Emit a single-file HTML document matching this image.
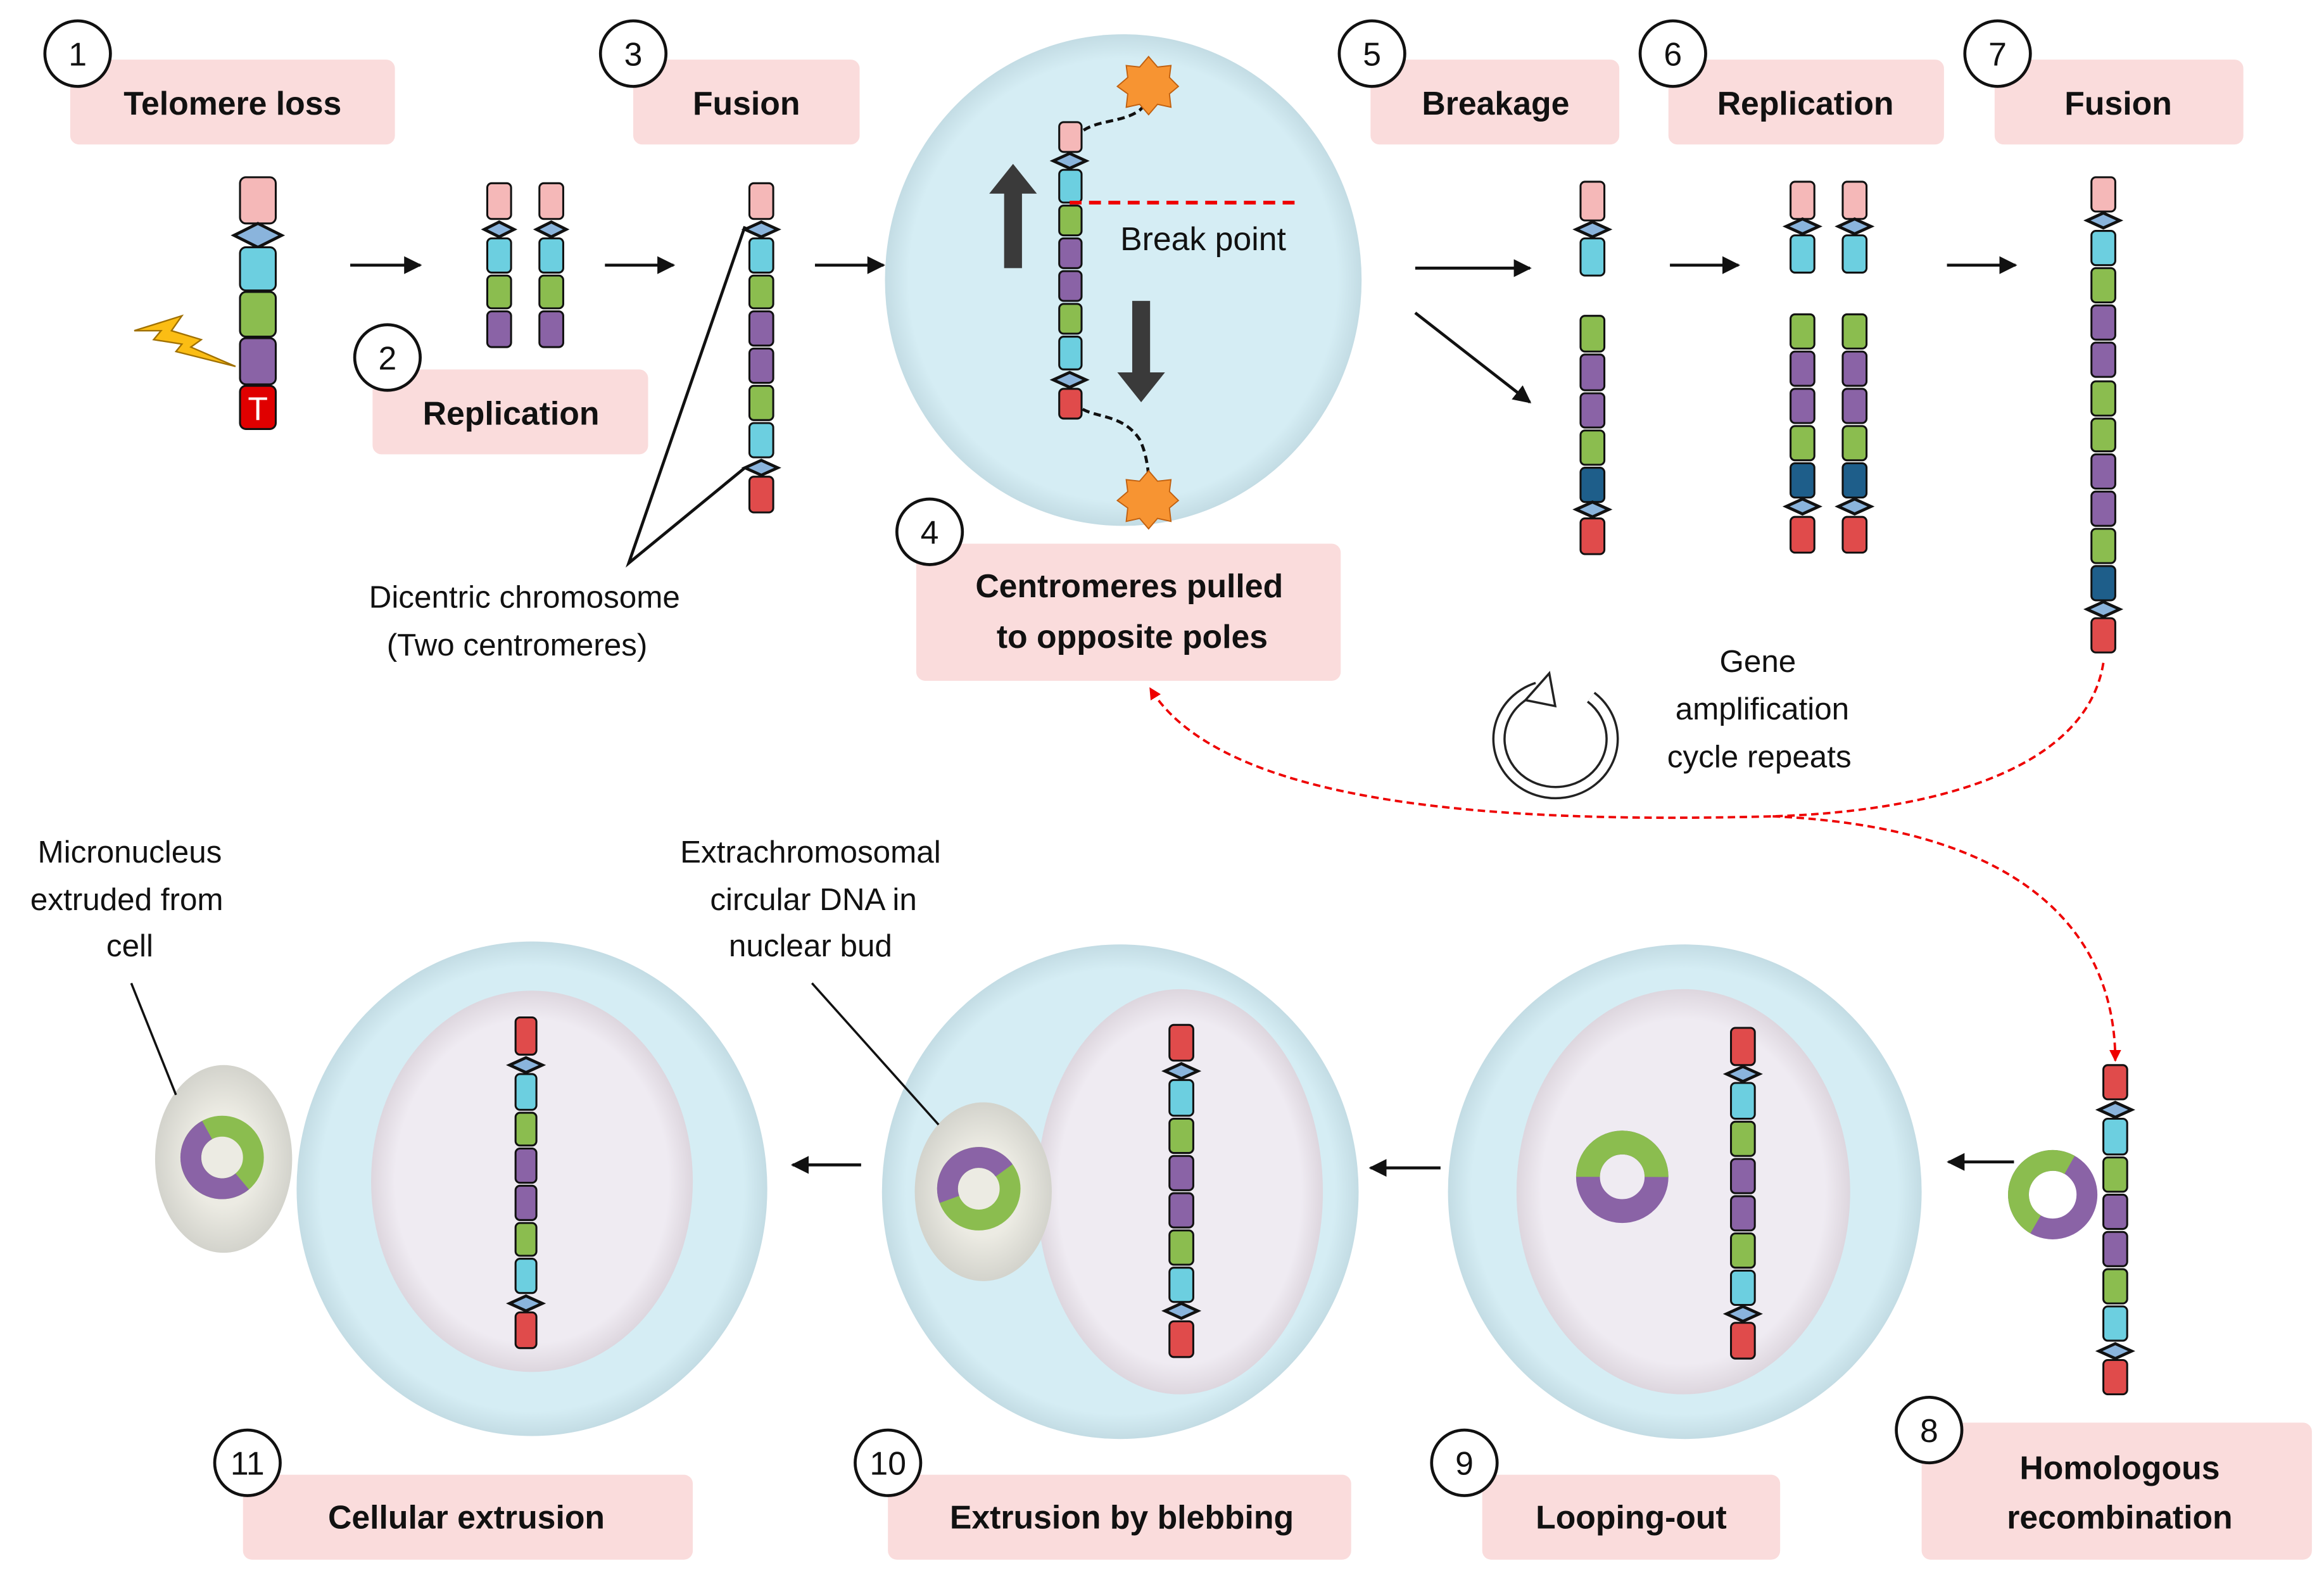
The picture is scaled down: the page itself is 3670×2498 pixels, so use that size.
<!DOCTYPE html>
<html><head><meta charset="utf-8"><style>
html,body{margin:0;padding:0;background:#fff}
svg{display:block}
text{font-family:"Liberation Sans",sans-serif;fill:#111}
.b{font-weight:bold;font-size:22px}
.r{font-size:21px}
.n{font-size:22px}
.s{stroke:#111;stroke-width:1.3}
.P{fill:#f5b8b8}.C{fill:#6ccfe0}.G{fill:#8bbd4f}.V{fill:#8a63a6}.R{fill:#e04b4b}.D{fill:#1e5e8a}
.dm{fill:#8ab4dc;stroke:#111;stroke-width:2}
.lb{fill:#fadcdc}
.nc{fill:#fff;stroke:#111;stroke-width:2}
.ar{stroke:#111;stroke-width:2;fill:none;marker-end:url(#ah)}
</style></head><body>
<svg width="3670" height="2498" viewBox="0 0 1560 1062" xmlns="http://www.w3.org/2000/svg">
<defs>
<marker id="ah" viewBox="0 0 10 10" refX="9" refY="5" markerWidth="6" markerHeight="6" orient="auto"><path d="M0,0 L10,5 L0,10 z" fill="#111"/></marker>
<marker id="rh" viewBox="0 0 10 10" refX="9" refY="5" markerWidth="5" markerHeight="5" orient="auto"><path d="M0,0 L10,5 L0,10 z" fill="#e00"/></marker>
<radialGradient id="cell" cx="50%" cy="50%" r="50%"><stop offset="0.9" stop-color="#d5edf4"/><stop offset="1" stop-color="#c3dce4"/></radialGradient>
<radialGradient id="nuc" cx="50%" cy="50%" r="50%"><stop offset="0.85" stop-color="#efebf2"/><stop offset="1" stop-color="#ddd6de"/></radialGradient>
<radialGradient id="bud" cx="50%" cy="50%" r="50%"><stop offset="0.5" stop-color="#ecebe3"/><stop offset="1" stop-color="#d3d3cc"/></radialGradient>
</defs>

<rect class="lb" x="47" y="40" width="218" height="57" rx="6"/>
<rect class="lb" x="425" y="40" width="152" height="57" rx="6"/>
<rect class="lb" x="250" y="248" width="185" height="57" rx="6"/>
<rect class="lb" x="615" y="365" width="285" height="92" rx="6"/>
<rect class="lb" x="920" y="40" width="167" height="57" rx="6"/>
<rect class="lb" x="1120" y="40" width="185" height="57" rx="6"/>
<rect class="lb" x="1339" y="40" width="167" height="57" rx="6"/>
<rect class="lb" x="1290" y="955" width="262" height="92" rx="6"/>
<rect class="lb" x="995" y="990" width="200" height="57" rx="6"/>
<rect class="lb" x="596" y="990" width="311" height="57" rx="6"/>
<rect class="lb" x="163" y="990" width="302" height="57" rx="6"/>

<text class="b" x="156" y="77" text-anchor="middle">Telomere loss</text>
<text class="b" x="501" y="77" text-anchor="middle">Fusion</text>
<text class="b" x="343" y="285" text-anchor="middle">Replication</text>
<text class="b" x="758" y="401" text-anchor="middle">Centromeres pulled</text>
<text class="b" x="760" y="435" text-anchor="middle">to opposite poles</text>
<text class="b" x="1004" y="77" text-anchor="middle">Breakage</text>
<text class="b" x="1212" y="77" text-anchor="middle">Replication</text>
<text class="b" x="1422" y="77" text-anchor="middle">Fusion</text>
<text class="b" x="1423" y="993" text-anchor="middle">Homologous</text>
<text class="b" x="1423" y="1026" text-anchor="middle">recombination</text>
<text class="b" x="1095" y="1026" text-anchor="middle">Looping-out</text>
<text class="b" x="753" y="1026" text-anchor="middle">Extrusion by blebbing</text>
<text class="b" x="313" y="1026" text-anchor="middle">Cellular extrusion</text>

<g>
<circle class="nc" cx="52" cy="36" r="22"/><text class="n" x="52" y="44" text-anchor="middle">1</text>
<circle class="nc" cx="260" cy="240" r="22"/><text class="n" x="260" y="248" text-anchor="middle">2</text>
<circle class="nc" cx="425" cy="36" r="22"/><text class="n" x="425" y="44" text-anchor="middle">3</text>
<circle class="nc" cx="624" cy="357" r="22"/><text class="n" x="624" y="365" text-anchor="middle">4</text>
<circle class="nc" cx="921" cy="36" r="22"/><text class="n" x="921" y="44" text-anchor="middle">5</text>
<circle class="nc" cx="1123" cy="36" r="22"/><text class="n" x="1123" y="44" text-anchor="middle">6</text>
<circle class="nc" cx="1341" cy="36" r="22"/><text class="n" x="1341" y="44" text-anchor="middle">7</text>
<circle class="nc" cx="1295" cy="960" r="22"/><text class="n" x="1295" y="968" text-anchor="middle">8</text>
<circle class="nc" cx="983" cy="982" r="22"/><text class="n" x="983" y="990" text-anchor="middle">9</text>
<circle class="nc" cx="596" cy="982" r="22"/><text class="n" x="596" y="990" text-anchor="middle">10</text>
<circle class="nc" cx="166" cy="982" r="22"/><text class="n" x="166" y="990" text-anchor="middle">11</text>
</g>

<polygon points="90,222 122,212 115,222 135,228 128,233 158,246 118,236 122,231 103,228 108,222" fill="#fbbd14" stroke="#a07000" stroke-width="1"/>
<rect class="s P" x="161" y="119" width="24" height="31" rx="4"/>
<polygon class="dm" points="157,158 173,150 189,158 173,166"/>
<rect class="s C" x="161" y="166" width="24" height="29" rx="4"/>
<rect class="s G" x="161" y="196" width="24" height="30" rx="4"/>
<rect class="s V" x="161" y="227" width="24" height="31" rx="4"/>
<rect x="161" y="259" width="24" height="29" rx="4" fill="#e00000" stroke="#111" stroke-width="1.3"/>
<text x="173" y="282" text-anchor="middle" style="font-size:22px;fill:#fff">T</text>

<g>
<rect class="s P" x="327" y="123" width="16" height="24" rx="3"/><polygon class="dm" points="325,154 335,149 345,154 335,159"/>
<rect class="s C" x="327" y="160" width="16" height="23" rx="3"/><rect class="s G" x="327" y="185" width="16" height="22" rx="3"/><rect class="s V" x="327" y="209" width="16" height="24" rx="3"/>
<rect class="s P" x="362" y="123" width="16" height="24" rx="3"/><polygon class="dm" points="360,154 370,149 380,154 370,159"/>
<rect class="s C" x="362" y="160" width="16" height="23" rx="3"/><rect class="s G" x="362" y="185" width="16" height="22" rx="3"/><rect class="s V" x="362" y="209" width="16" height="24" rx="3"/>
</g>

<rect class="s P" x="503" y="123" width="16" height="24" rx="3"/><polygon class="dm" points="500,154 511,149 522,154 511,159"/>
<rect class="s C" x="503" y="160" width="16" height="23" rx="3"/><rect class="s G" x="503" y="185" width="16" height="22" rx="3"/>
<rect class="s V" x="503" y="209" width="16" height="23" rx="3"/><rect class="s V" x="503" y="234" width="16" height="23" rx="3"/>
<rect class="s G" x="503" y="259" width="16" height="23" rx="3"/><rect class="s C" x="503" y="284" width="16" height="23" rx="3"/>
<polygon class="dm" points="500,314 511,309 522,314 511,319"/><rect class="s R" x="503" y="320" width="16" height="24" rx="3"/>
<path d="M500,152 L422,378 L500,314" stroke="#111" stroke-width="2" fill="none"/>
<text class="r" x="352" y="408" text-anchor="middle">Dicentric chromosome</text>
<text class="r" x="347" y="440" text-anchor="middle">(Two centromeres)</text>

<line class="ar" x1="235" y1="178" x2="282" y2="178"/>
<line class="ar" x1="406" y1="178" x2="452" y2="178"/>
<line class="ar" x1="547" y1="178" x2="593" y2="178"/>
<line class="ar" x1="950" y1="180" x2="1027" y2="180"/>
<line class="ar" x1="950" y1="210" x2="1027" y2="270"/>
<line class="ar" x1="1121" y1="178" x2="1167" y2="178"/>
<line class="ar" x1="1307" y1="178" x2="1353" y2="178"/>

<ellipse cx="754" cy="188" rx="160" ry="165" fill="url(#cell)"/>
<polygon points="680,110 696,130 686,130 686,180 674,180 674,130 664,130" fill="#3a3a3a"/>
<polygon points="766,270 782,250 772,250 772,202 760,202 760,250 750,250" fill="#3a3a3a"/>
<path d="M718,100 C725,78 750,85 765,74 C772,68 771,62 771,62" stroke="#111" stroke-width="2" stroke-dasharray="5,3" fill="none"/>
<path d="M718,262 C722,285 750,272 765,295 C770,305 771,318 771,322" stroke="#111" stroke-width="2" stroke-dasharray="5,3" fill="none"/>
<polygon points="771,38 777,45 786,44 785,52 791,58 785,63 786,72 777,70 771,77 765,70 756,72 757,63 750,58 757,52 756,44 765,45" fill="#f79432" stroke="#c06010" stroke-width="0.8"/>
<polygon points="771,316 777,323 786,322 785,330 791,336 785,341 786,350 777,348 771,355 765,348 756,350 757,341 750,336 757,330 756,322 765,323" fill="#f79432" stroke="#c06010" stroke-width="0.8"/>
<rect class="s P" x="711" y="82" width="15" height="20" rx="3"/><polygon class="dm" points="707,108 718,103 729,108 718,113"/>
<rect class="s C" x="711" y="114" width="15" height="22" rx="3"/><rect class="s G" x="711" y="138" width="15" height="20" rx="3"/>
<rect class="s V" x="711" y="160" width="15" height="20" rx="3"/><rect class="s V" x="711" y="182" width="15" height="20" rx="3"/>
<rect class="s G" x="711" y="204" width="15" height="20" rx="3"/><rect class="s C" x="711" y="226" width="15" height="22" rx="3"/>
<polygon class="dm" points="707,255 718,250 729,255 718,260"/><rect class="s R" x="711" y="261" width="15" height="20" rx="3"/>
<line x1="718" y1="136" x2="872" y2="136" stroke="#e00" stroke-width="2.5" stroke-dasharray="8,5"/>
<text x="752" y="168" style="font-size:22px">Break point</text>

<g>
<rect class="s P" x="1061" y="122" width="16" height="26" rx="3"/><polygon class="dm" points="1058,154 1069,149 1080,154 1069,159"/><rect class="s C" x="1061" y="160" width="16" height="25" rx="3"/>
<rect class="s G" x="1061" y="212" width="16" height="24" rx="3"/><rect class="s V" x="1061" y="238" width="16" height="24" rx="3"/><rect class="s V" x="1061" y="264" width="16" height="23" rx="3"/>
<rect class="s G" x="1061" y="289" width="16" height="23" rx="3"/><rect class="s D" x="1061" y="314" width="16" height="23" rx="3"/>
<polygon class="dm" points="1058,342 1069,337 1080,342 1069,347"/><rect class="s R" x="1061" y="348" width="16" height="24" rx="3"/>
</g>
<g>
<rect class="s P" x="1202" y="122" width="16" height="25" rx="3"/><polygon class="dm" points="1199,152 1210,147 1221,152 1210,157"/><rect class="s C" x="1202" y="158" width="16" height="25" rx="3"/>
<rect class="s G" x="1202" y="211" width="16" height="23" rx="3"/><rect class="s V" x="1202" y="236" width="16" height="23" rx="3"/><rect class="s V" x="1202" y="261" width="16" height="23" rx="3"/>
<rect class="s G" x="1202" y="286" width="16" height="23" rx="3"/><rect class="s D" x="1202" y="311" width="16" height="23" rx="3"/>
<polygon class="dm" points="1199,340 1210,335 1221,340 1210,345"/><rect class="s R" x="1202" y="347" width="16" height="24" rx="3"/>
<rect class="s P" x="1237" y="122" width="16" height="25" rx="3"/><polygon class="dm" points="1234,152 1245,147 1256,152 1245,157"/><rect class="s C" x="1237" y="158" width="16" height="25" rx="3"/>
<rect class="s G" x="1237" y="211" width="16" height="23" rx="3"/><rect class="s V" x="1237" y="236" width="16" height="23" rx="3"/><rect class="s V" x="1237" y="261" width="16" height="23" rx="3"/>
<rect class="s G" x="1237" y="286" width="16" height="23" rx="3"/><rect class="s D" x="1237" y="311" width="16" height="23" rx="3"/>
<polygon class="dm" points="1234,340 1245,335 1256,340 1245,345"/><rect class="s R" x="1237" y="347" width="16" height="24" rx="3"/>
</g>
<g>
<rect class="s P" x="1404" y="119" width="16" height="23" rx="3"/><polygon class="dm" points="1401,148 1412,143 1423,148 1412,153"/>
<rect class="s C" x="1404" y="155" width="16" height="23" rx="3"/><rect class="s G" x="1404" y="180" width="16" height="23" rx="3"/>
<rect class="s V" x="1404" y="205" width="16" height="23" rx="3"/><rect class="s V" x="1404" y="230" width="16" height="23" rx="3"/>
<rect class="s G" x="1404" y="256" width="16" height="23" rx="3"/><rect class="s G" x="1404" y="281" width="16" height="22" rx="3"/>
<rect class="s V" x="1404" y="305" width="16" height="23" rx="3"/><rect class="s V" x="1404" y="330" width="16" height="23" rx="3"/>
<rect class="s G" x="1404" y="355" width="16" height="23" rx="3"/><rect class="s D" x="1404" y="380" width="16" height="23" rx="3"/>
<polygon class="dm" points="1401,409 1412,404 1423,409 1412,414"/><rect class="s R" x="1404" y="415" width="16" height="23" rx="3"/>
</g>

<path d="M1032,462 A38,36 0 1,0 1068,468" fill="none" stroke="#222" stroke-width="9"/>
<path d="M1032,462 A38,36 0 1,0 1068,468" fill="none" stroke="#fff" stroke-width="6"/>
<polygon points="1024,470 1040,452 1044,474" fill="#fff" stroke="#222" stroke-width="1.5"/>
<text class="r" x="1180" y="451" text-anchor="middle">Gene</text>
<text class="r" x="1183" y="483" text-anchor="middle">amplification</text>
<text class="r" x="1181" y="515" text-anchor="middle">cycle repeats</text>

<path d="M1412,445 C1400,520 1290,545 1190,548 C1000,553 820,540 772,462" fill="none" stroke="#e00" stroke-width="1.6" stroke-dasharray="5,3" marker-end="url(#rh)"/>
<path d="M1190,548 C1350,555 1420,620 1420,712" fill="none" stroke="#e00" stroke-width="1.6" stroke-dasharray="5,3" marker-end="url(#rh)"/>

<line class="ar" x1="1352" y1="780" x2="1308" y2="780"/>
<line class="ar" x1="967" y1="784" x2="920" y2="784"/>
<line class="ar" x1="578" y1="782" x2="532" y2="782"/>

<g>
<circle cx="1378" cy="802" r="23" fill="none" stroke="#8a63a6" stroke-width="14"/>
<circle cx="1378" cy="802" r="23" fill="none" stroke="#8bbd4f" stroke-width="14" stroke-dasharray="72 73" transform="rotate(120 1378 802)"/>
<rect class="s R" x="1412" y="715" width="16" height="23" rx="3"/><polygon class="dm" points="1409,745 1420,740 1431,745 1420,750"/>
<rect class="s C" x="1412" y="751" width="16" height="24" rx="3"/><rect class="s G" x="1412" y="777" width="16" height="23" rx="3"/>
<rect class="s V" x="1412" y="802" width="16" height="23" rx="3"/><rect class="s V" x="1412" y="827" width="16" height="23" rx="3"/>
<rect class="s G" x="1412" y="852" width="16" height="23" rx="3"/><rect class="s C" x="1412" y="877" width="16" height="23" rx="3"/>
<polygon class="dm" points="1409,907 1420,902 1431,907 1420,912"/><rect class="s R" x="1412" y="913" width="16" height="23" rx="3"/>
</g>

<ellipse cx="1131" cy="800" rx="159" ry="166" fill="url(#cell)"/>
<ellipse cx="1130" cy="800" rx="112" ry="136" fill="url(#nuc)"/>
<circle cx="1089" cy="790" r="23" fill="none" stroke="#8a63a6" stroke-width="16"/>
<circle cx="1089" cy="790" r="23" fill="none" stroke="#8bbd4f" stroke-width="16" stroke-dasharray="72.3 72.3" transform="rotate(180 1089 790)"/>
<g>
<rect class="s R" x="1162" y="690" width="16" height="25" rx="3"/><polygon class="dm" points="1159,721 1170,716 1181,721 1170,726"/>
<rect class="s C" x="1162" y="727" width="16" height="24" rx="3"/><rect class="s G" x="1162" y="753" width="16" height="23" rx="3"/>
<rect class="s V" x="1162" y="778" width="16" height="23" rx="3"/><rect class="s V" x="1162" y="803" width="16" height="23" rx="3"/>
<rect class="s G" x="1162" y="828" width="16" height="23" rx="3"/><rect class="s C" x="1162" y="853" width="16" height="23" rx="3"/>
<polygon class="dm" points="1159,882 1170,877 1181,882 1170,887"/><rect class="s R" x="1162" y="888" width="16" height="24" rx="3"/>
</g>

<ellipse cx="752" cy="800" rx="160" ry="166" fill="url(#cell)"/>
<ellipse cx="792" cy="800" rx="96" ry="136" fill="url(#nuc)"/>
<ellipse cx="660" cy="800" rx="46" ry="60" fill="url(#bud)"/>
<circle cx="657" cy="798" r="21" fill="none" stroke="#8bbd4f" stroke-width="14"/>
<circle cx="657" cy="798" r="21" fill="none" stroke="#8a63a6" stroke-width="14" stroke-dasharray="60 72" transform="rotate(160 657 798)"/>
<g>
<rect class="s R" x="785" y="688" width="16" height="24" rx="3"/><polygon class="dm" points="782,719 793,714 804,719 793,724"/>
<rect class="s C" x="785" y="725" width="16" height="24" rx="3"/><rect class="s G" x="785" y="751" width="16" height="23" rx="3"/>
<rect class="s V" x="785" y="776" width="16" height="23" rx="3"/><rect class="s V" x="785" y="801" width="16" height="23" rx="3"/>
<rect class="s G" x="785" y="826" width="16" height="23" rx="3"/><rect class="s C" x="785" y="851" width="16" height="23" rx="3"/>
<polygon class="dm" points="782,880 793,875 804,880 793,885"/><rect class="s R" x="785" y="887" width="16" height="24" rx="3"/>
</g>
<line x1="545" y1="660" x2="630" y2="755" stroke="#111" stroke-width="1.5"/>
<text class="r" x="544" y="579" text-anchor="middle">Extrachromosomal</text>
<text class="r" x="546" y="611" text-anchor="middle">circular DNA in</text>
<text class="r" x="544" y="642" text-anchor="middle">nuclear bud</text>

<ellipse cx="357" cy="798" rx="158" ry="166" fill="url(#cell)"/>
<ellipse cx="357" cy="793" rx="108" ry="128" fill="url(#nuc)"/>
<ellipse cx="150" cy="778" rx="46" ry="63" fill="url(#bud)"/>
<circle cx="149" cy="777" r="21" fill="none" stroke="#8bbd4f" stroke-width="14"/>
<circle cx="149" cy="777" r="21" fill="none" stroke="#8a63a6" stroke-width="14" stroke-dasharray="70 62" transform="rotate(50 149 777)"/>
<g>
<rect class="s R" x="346" y="683" width="14" height="25" rx="3"/><polygon class="dm" points="342,715 353,710 364,715 353,720"/>
<rect class="s C" x="346" y="721" width="14" height="24" rx="3"/><rect class="s G" x="346" y="747" width="14" height="22" rx="3"/>
<rect class="s V" x="346" y="771" width="14" height="23" rx="3"/><rect class="s V" x="346" y="796" width="14" height="23" rx="3"/>
<rect class="s G" x="346" y="821" width="14" height="22" rx="3"/><rect class="s C" x="346" y="845" width="14" height="23" rx="3"/>
<polygon class="dm" points="342,875 353,870 364,875 353,880"/><rect class="s R" x="346" y="881" width="14" height="24" rx="3"/>
</g>
<line x1="88" y1="660" x2="118" y2="735" stroke="#111" stroke-width="1.5"/>
<text class="r" x="87" y="579" text-anchor="middle">Micronucleus</text>
<text class="r" x="85" y="611" text-anchor="middle">extruded from</text>
<text class="r" x="87" y="642" text-anchor="middle">cell</text>
</svg>
</body></html>
